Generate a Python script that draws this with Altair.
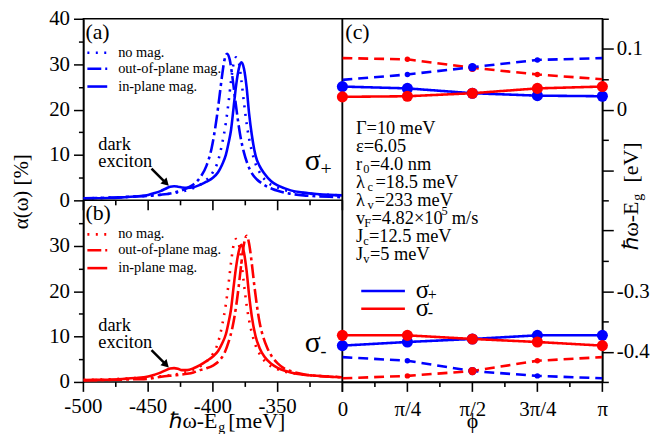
import altair as alt
import pandas as pd

FONT = "Liberation Serif"
BLUE = "#0000ff"
RED = "#ff0000"

# ---------------- panels (a)/(b): absorption spectra ----------------
E_dot = [-500, -490, -480, -470, -460, -450, -440, -430, -425, -420, -415, -410, -405, -400,
         -396, -393, -390, -388, -386, -384, -382, -380, -378, -376, -374, -372, -370, -367,
         -364, -360, -355, -350, -345, -340, -330, -320, -310, -300]
A_dot = [0.45, 0.5, 0.6, 0.7, 0.85, 1.0, 1.25, 1.6, 1.9, 2.2, 2.7, 3.4, 4.5, 6.2,
         8.7, 12.3, 17.1, 21.4, 26.3, 30.2, 31.5, 30.4, 26.4, 21.5, 17.0, 13.5, 10.9, 8.0,
         6.2, 4.6, 3.4, 2.8, 2.3, 2.0, 1.6, 1.35, 1.2, 1.1]

E_dash_a = [-500, -490, -480, -470, -460, -450, -440, -430, -425, -420, -415, -410, -405, -401,
            -397, -395, -393, -391, -389, -387, -385, -383, -381, -379, -376, -373, -370, -366,
            -362, -358, -354, -350, -345, -340, -330, -320, -310, -300]
A_dash_a = [0.45, 0.5, 0.6, 0.7, 0.85, 1.0, 1.25, 1.7, 2.1, 2.7, 3.5, 5.0, 7.6, 11.5,
            18.3, 22.7, 27.3, 31.0, 32.3, 31.0, 27.3, 22.7, 18.3, 14.5, 10.5, 7.8, 6.0, 4.6,
            3.7, 3.0, 2.5, 2.1, 1.7, 1.45, 1.1, 0.9, 0.78, 0.7]

E_solid = [-500, -490, -480, -470, -460, -450, -445, -440, -437, -433, -430, -427, -424, -420,
           -415, -410, -405, -400, -396, -393, -390, -388, -386, -384, -382, -380, -378, -376,
           -374, -372, -370, -367, -364, -360, -355, -350, -345, -340, -330, -320, -310, -300]
A_solid_a = [0.4, 0.45, 0.5, 0.65, 0.85, 1.2, 1.6, 2.1, 2.5, 3.0, 3.1, 3.0, 2.85, 2.75,
             2.9, 3.4, 4.1, 5.0, 6.2, 7.8, 10.0, 12.5, 15.5, 20.5, 25.5, 29.0, 30.4, 29.0,
             25.0, 19.0, 14.5, 9.8, 7.6, 5.8, 4.2, 3.3, 2.7, 2.2, 1.7, 1.4, 1.2, 1.1]
A_solid_b = [0.4, 0.45, 0.5, 0.65, 0.85, 1.2, 1.6, 2.1, 2.5, 2.95, 3.05, 2.9, 2.6, 2.6,
             3.0, 3.7, 4.6, 5.6, 6.8, 8.4, 10.5, 13.0, 16.0, 21.0, 25.5, 28.8, 30.2, 28.5,
             24.5, 19.0, 14.5, 10.0, 7.5, 5.5, 4.0, 3.1, 2.5, 2.1, 1.6, 1.35, 1.15, 1.05]

E_dash_b = [-500, -490, -480, -470, -460, -450, -440, -430, -425, -420, -415, -410, -405, -400,
            -395, -391, -388, -385, -382, -380, -378, -376, -374, -372, -370, -368, -366, -364,
            -361, -358, -354, -350, -345, -340, -330, -320, -310, -300]
A_dash_b = [0.35, 0.4, 0.45, 0.5, 0.6, 0.7, 1.15, 1.45, 1.6, 1.8, 2.1, 2.6, 3.0, 3.6,
            4.7, 6.4, 8.7, 11.9, 16.8, 21.2, 26.2, 30.4, 32.2, 30.4, 26.2, 21.2, 16.8, 13.2,
            9.8, 7.5, 5.4, 4.1, 3.0, 2.4, 1.7, 1.35, 1.15, 1.0]

# dark-exciton arrow (start -> head) in data units of a panel
arrow_E = [-447.4, -436.8]
arrow_A = [7.0, 3.98]

# x-axis ticks of (a)/(b)
x_major = [-500, -450, -400, -350, -300]
x_minor = [-475, -425, -375, -325]
x_labels = ["-500", "-450", "-400", "-350"]

# ---------------- panel (c): exciton energies vs phi ----------------
phi = [0, 1, 2, 3, 4]                      # in units of pi/4
phi_minor = [0.5, 1.5, 2.5, 3.5]
phi_labels = ["0", "π/4", "π/2", "3π/4", "π"]
up_plus_solid = [0.038, 0.035, 0.027, 0.023, 0.022]
up_minus_solid = [0.021, 0.022, 0.027, 0.035, 0.038]
up_plus_dash = [0.049, 0.058, 0.070, 0.082, 0.085]
up_minus_dash = [0.085, 0.083, 0.069, 0.058, 0.050]
low_plus_solid = [-0.390, -0.384, -0.379, -0.373, -0.373]
low_minus_solid = [-0.373, -0.373, -0.379, -0.384, -0.390]
low_plus_dash = [-0.409, -0.415, -0.432, -0.440, -0.444]
low_minus_dash = [-0.444, -0.440, -0.432, -0.415, -0.409]

params = ["Γ=10 meV", "ε=6.05", "r|0|=4.0 nm", "λ|c|=18.5 meV", "λ|v|=233 meV",
          "v|F|=4.82×10", "J|c|=12.5 meV", "J|v|=5 meV"]

y_ticks = list(range(0, 81, 5))          # (b) occupies 0..40, (a) is drawn at 40..80
c_y_ticks = [round(-0.45 + 0.05 * i, 2) for i in range(13)]

ONE = pd.DataFrame({"k": [0]})
PH = 183  # height of one spectral panel


def tcond(test, major, minor):
    return {"condition": {"test": test, "value": major}, "value": minor}


def txt(s, x, y, size, align="left", baseline="alphabetic", angle=0, **kw):
    props = dict(align=align, baseline=baseline, fontSize=size, font=FONT, color="black", **kw)
    if angle:
        props["angle"] = angle
    return alt.Chart(ONE).mark_text(**props).encode(
        x=alt.value(x), y=alt.value(y), text=alt.value(s))


def tick_table(major, minor):
    return pd.DataFrame([{"t": v, "kind": k} for lst, k in ((major, "M"), (minor, "m")) for v in lst])


def rect_ticks(df, xscale, yscale, yaxis, base, x_px, y_px, xaxis=None):
    """Tick marks as thin rectangles hanging down from `base`, placed through the scales."""
    hw = 0.8 / x_px
    return alt.Chart(df).transform_calculate(
        x1=f"datum.t - {hw}", x2=f"datum.t + {hw}",
        y0=f"{base}", y1=f"{base} - (datum.kind === 'M' ? 10 : 5) / {y_px}").mark_rect(
        color="black", opacity=1).encode(
        x=alt.X("x1:Q", scale=xscale, axis=xaxis), x2="x2:Q",
        y=alt.Y("y0:Q", scale=yscale, axis=yaxis), y2="y1:Q")


xs = alt.Scale(domain=[-500, -300], nice=False, zero=False)
ys = alt.Scale(domain=[0, 80], nice=False, zero=False)
X_PX = 261 / 200.0         # pixels per meV
Y_PX = 2 * PH / 80.0       # pixels per data unit on the left y scale

ax_y = alt.Axis(values=y_ticks, title=None, labelPadding=4,
                labelExpr="datum.value % 10 === 0 ? '' + (datum.value >= 40 ? datum.value - 40 : datum.value) : ''",
                tickSize=tcond("datum.value % 10 === 0", 10, 5))

STYLES = {
    "dot": dict(strokeDash=[2, 6.5]),
    "dash": dict(strokeDash=[14, 4, 3, 4]),
    "solid": dict(),
}


def XE(field="E"):
    return alt.X(f"{field}:Q", scale=xs, axis=None)


def YA(field):
    return alt.Y(f"{field}:Q", scale=ys, axis=ax_y)


def spectrum(E, A, color, style, shift):
    df = pd.DataFrame({"E": E, "A": A})
    return alt.Chart(df).transform_calculate(Y=f"datum.A + {shift}").mark_line(
        color=color, strokeWidth=2.6, interpolate="monotone", clip=True, **STYLES[style]).encode(
        x=XE(), y=YA("Y"))


def spectral_layers(color, curves, shift, y0, tag, sub, subsize):
    layers = [spectrum(E, A, color, st, shift) for (E, A, st) in curves]
    rows = [("dot", "no mag.", 34.3), ("dash", "out-of-plane mag.", 50.3), ("solid", "in-plane mag.", 68.3)]
    for st, lab, yy in rows:
        layers.append(alt.Chart(ONE).mark_rule(color=color, strokeWidth=2.6, **STYLES[st]).encode(
            x=alt.value(4), x2=alt.value(24), y=alt.value(y0 + yy)))
        layers.append(txt(lab, 35, y0 + yy, 14.5, baseline="middle"))
    layers.append(txt(tag, 2, y0 + 20, 22))
    layers.append(txt("dark\nexciton", 15, y0 + 132, 18.5, lineBreak="\n", lineHeight=17))
    arrow = pd.DataFrame({"E": [arrow_E[0]], "A": [arrow_A[0]], "E2": [arrow_E[1]], "A2": [arrow_A[1]]})
    layers.append(alt.Chart(arrow).transform_calculate(
        Y=f"datum.A + {shift}", Y2=f"datum.A2 + {shift}").mark_rule(color="black", strokeWidth=2.5).encode(
        x=XE(), y=YA("Y"), x2="E2:Q", y2="Y2:Q"))
    layers.append(alt.Chart(arrow).transform_calculate(Y2=f"datum.A2 + {shift}").mark_point(
        shape="triangle", filled=True, size=75, angle=135, color="black", opacity=1).encode(
        x=XE("E2"), y=YA("Y2")))
    layers.append(txt("σ", 223, y0 + 152.8, 30))
    layers.append(txt(sub, 239, y0 + 157.8, subsize))
    return layers


left_layers = []
left_layers += spectral_layers(BLUE, [(E_dot, A_dot, "dot"), (E_dash_a, A_dash_a, "dash"),
                                     (E_solid, A_solid_a, "solid")], 40, 0, "(a)", "+", 20)
left_layers += spectral_layers(RED, [(E_dot, A_dot, "dot"), (E_dash_b, A_dash_b, "dash"),
                                    (E_solid, A_solid_b, "solid")], 0, PH, "(b)", "-", 18)

# x axes of (a) and (b): border between the panels, ticks pointing down, labels at the bottom
left_layers.append(alt.Chart(ONE).mark_rule(color="black", strokeWidth=1.5).encode(
    x=alt.value(0), x2=alt.value(261), y=alt.value(PH)))
df_xt = tick_table(x_major, x_minor)
for base in (40, 0):
    left_layers.append(rect_ticks(df_xt, xs, ys, ax_y, base, X_PX, Y_PX))
df_lab = pd.DataFrame({"E": x_major[:len(x_labels)], "lab": x_labels})
left_layers.append(alt.Chart(df_lab).mark_text(
    font=FONT, fontSize=21, color="black", align="center", baseline="alphabetic").encode(
    x=XE(), y=alt.value(2 * PH + 31.6), text="lab:N"))

# axis titles
left_layers.append(txt("α(ω) [%]", -62, 174.3, 21, align="center", baseline="middle", angle=270))
left_layers.append(txt("ℏω-E", 135, 2 * PH + 46.3, 22, align="right"))
left_layers.append(txt("g", 136, 2 * PH + 50.3, 14))
left_layers.append(txt("[meV]", 146, 2 * PH + 46.3, 22))

panel_left = alt.layer(*left_layers).properties(width=261, height=2 * PH)

# ---------------- panel (c) ----------------
rows = []
series = [
    ("up_minus_dash", up_minus_dash, "r", "dashed"),
    ("up_plus_dash", up_plus_dash, "b", "dashed"),
    ("low_plus_dash", low_plus_dash, "b", "dashed"),
    ("low_minus_dash", low_minus_dash, "r", "dashed"),
    ("up_plus_solid", up_plus_solid, "b", "solid"),
    ("up_minus_solid", up_minus_solid, "r", "solid"),
    ("low_plus_solid", low_plus_solid, "b", "solid"),
    ("low_minus_solid", low_minus_solid, "r", "solid"),
]
for sid, vals, col, st in series:
    for p, v in zip(phi, vals):
        rows.append({"phi": p, "en": v, "sid": sid, "col": col, "style": st})
df_c = pd.DataFrame(rows)

cxs = alt.Scale(domain=[0, 4], nice=False, zero=False)
cys = alt.Scale(domain=[-0.45, 0.15], nice=False, zero=False)
CX_PX = 262 / 4.0
C_PX = 2 * PH / 0.6         # pixels per data unit on the right y scale
phi_expr = " : ".join(f"datum.value === {p} ? '{l}'" for p, l in zip(phi, phi_labels)) + " : ''"
ax_cx = alt.Axis(values=phi, title=None, labelPadding=17, labelExpr=phi_expr, ticks=False)
ax_cy = alt.Axis(values=c_y_ticks, title=None, orient="right", labelPadding=3,
                 labelExpr="abs(datum.value - 0.1) < 1e-6 ? '0.1' : abs(datum.value) < 1e-6 ? '0' : "
                           "abs(datum.value + 0.3) < 1e-6 ? '-0.3' : abs(datum.value + 0.4) < 1e-6 ? '-0.4' : ''",
                 tickSize=tcond("abs(round(datum.value * 10) - datum.value * 10) < 1e-6", 11, 6))

color_c = alt.Color("col:N", scale=alt.Scale(domain=["b", "r"], range=[BLUE, RED]), legend=None)
X_c = alt.X("phi:Q", scale=cxs, axis=ax_cx)
Y_c = alt.Y("en:Q", scale=cys, axis=ax_cy)

lines_c = alt.Chart(df_c).mark_line(strokeWidth=2.6, clip=True).encode(
    x=X_c, y=Y_c, detail="sid:N", color=color_c,
    strokeDash=alt.StrokeDash("style:N", scale=alt.Scale(domain=["solid", "dashed"],
                                                         range=[[1, 0], [10, 6]]), legend=None))
pts_solid = alt.Chart(df_c).transform_filter("datum.style === 'solid'").mark_circle(
    size=125, opacity=1).encode(x=X_c, y=Y_c, color=color_c)
pts_dash = alt.Chart(df_c).transform_filter(
    "datum.style === 'dashed' && datum.phi > 0 && datum.phi < 4").mark_circle(opacity=1).encode(
    x=X_c, y=Y_c, color=color_c,
    size=alt.condition("datum.phi === 2", alt.value(70), alt.value(30)))
ticks_c = rect_ticks(tick_table(phi, phi_minor), cxs, cys, ax_cy, -0.45, CX_PX, C_PX, xaxis=ax_cx)

c_layers = [lines_c, pts_dash, pts_solid, ticks_c, txt("(c)", 3, 20, 22)]
line_y = [110.3, 128.3, 146.6, 164.6, 183.0, 201.0, 219.3, 237.6]
sub_x = {"r": 21.0, "λ": 25.3, "v": 22.0, "J": 21.0}
rest_x = {("r", "0"): 27.7, ("λ", "c"): 33.3, ("λ", "v"): 32.7, ("v", "F"): 29.3,
          ("J", "c"): 26.7, ("J", "v"): 27.7}
for s, yy in zip(params, line_y):
    if "|" in s:
        main, sb, rest = s.split("|")
        c_layers.append(txt(main, 13.7, yy, 18.5, baseline="middle"))
        c_layers.append(txt(sb, sub_x[main], yy + 5, 12.5, baseline="middle"))
        rx = rest_x[(main, sb)]
        c_layers.append(txt(rest, rx, yy, 18.5, baseline="middle"))
        if rest.endswith("×10"):
            c_layers.append(txt("5", rx + 70.5, yy - 7, 12.5, baseline="middle"))
            c_layers.append(txt("m/s", rx + 81, yy, 18.5, baseline="middle"))
    else:
        c_layers.append(txt(s, 13.7, yy, 18.5, baseline="middle"))
for col, yy, sb, by in [(BLUE, 274.3, "+", 281), (RED, 292.3, "-", 299.3)]:
    c_layers.append(alt.Chart(ONE).mark_rule(color=col, strokeWidth=2.6).encode(
        x=alt.value(19), x2=alt.value(63), y=alt.value(yy)))
    c_layers.append(txt("σ", 74, by, 25))
    c_layers.append(txt(sb, 86, by + 2, 16))
c_layers.append(txt("ϕ", 131, 2 * PH + 46.3, 22, align="center"))
c_layers.append(txt("ℏω-E", 298, 184.3, 22, align="right", angle=270))
c_layers.append(txt("g", 301.5, 183.5, 14, angle=270))
c_layers.append(txt("[eV]", 298, 165, 22, angle=270))

panel_c = alt.layer(*c_layers).properties(width=262, height=2 * PH)

chart = alt.hconcat(panel_left, panel_c, spacing=0, bounds="flush").properties(
    padding={"left": 2, "top": -2.8, "right": 0, "bottom": -4.5}
).configure_view(stroke="black", strokeWidth=1.5).configure_axis(
    domainColor="black", domainWidth=1.5, tickColor="black", tickWidth=1.5,
    labelFont=FONT, labelFontSize=21, labelColor="black", labelOverlap=False,
    labelFlush=False, grid=False
)

chart.save("out.html", embed_options={"renderer": "svg", "actions": False})
